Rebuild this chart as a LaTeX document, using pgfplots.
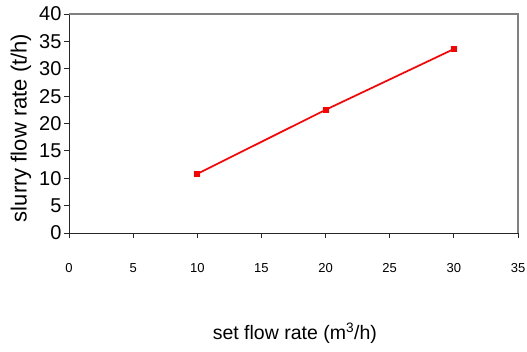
\documentclass[border=0pt]{standalone}
\usepackage{pgfplots}
\pgfplotsset{compat=1.18}
\usepackage{fontspec}
\setmainfont{Liberation Sans}
\begin{document}
\begin{tikzpicture}
\begin{axis}[
  at={(0,0)}, anchor=south west,
  scale only axis, width=449pt, height=219pt,
  xmin=0, xmax=35, ymin=0, ymax=40,
  xtick={0,5,...,35}, ytick={0,5,...,40},
  axis lines=left, axis line style={-, black!85, line width=0.9pt},
  tick align=outside, major tick length=5pt,
  tick style={black!85, line width=0.8pt},
  /pgf/number format/assume math mode=true,
  xticklabel style={font=\fontsize{13}{15}\selectfont, yshift=-22pt},
  yticklabel style={font=\fontsize{20}{22}\selectfont, xshift=1pt},
  xlabel={set flow rate (m\textsuperscript{3}/h)},
  ylabel={slurry flow rate (t/h)},
  xlabel style={font=\fontsize{19.5}{21}\selectfont, at={(axis description cs:0.503,-0.457)}, anchor=center},
  ylabel style={font=\fontsize{22}{24}\selectfont, at={(axis description cs:-0.107,0.48)}, anchor=center},
  clip=false,
]
\addplot[red, line width=1.7pt, mark=square*, mark size=2.2pt, mark options={fill=red}] coordinates {
  (10,10.8) (20,22.5) (30,33.6)
};
\draw[black!50, line width=1.2pt] (rel axis cs:0,1) -- (rel axis cs:1,1) -- (rel axis cs:1,0);
\end{axis}
\pgfresetboundingbox
\path[use as bounding box] (-69pt,-119pt) rectangle (458pt,233pt);
\end{tikzpicture}
\end{document}
